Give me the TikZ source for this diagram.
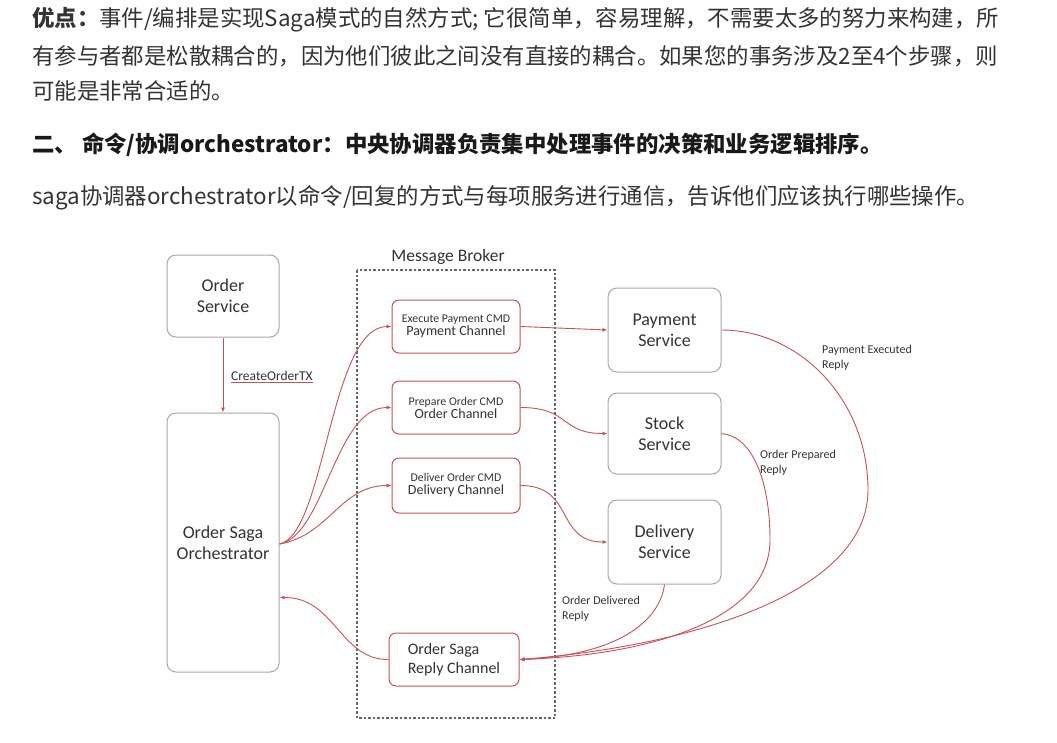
\documentclass[tikz,border=0pt]{standalone}
\usepackage{fontspec}
\usetikzlibrary{arrows.meta}
\newfontfamily\cjk{Noto Sans CJK SC}
\newfontfamily\diag{Carlito}
\definecolor{para}{HTML}{333333}
\definecolor{txt}{HTML}{333333}
\definecolor{lred}{HTML}{C8505C}
\definecolor{gborder}{HTML}{A8A8A8}
\definecolor{dashc}{HTML}{666666}
\begin{document}
\begin{tikzpicture}[x=1pt,y=-1pt,
  paratext/.style={anchor=west,inner sep=0pt,text=para,font=\cjk\fontsize{22.4}{26}\selectfont},
  gbox/.style={draw=gborder,line width=1pt,rounded corners=9pt,align=center,text=txt,font=\diag\fontsize{18}{21}\selectfont,inner sep=0pt},
  rbox/.style={draw=lred,line width=1pt,rounded corners=7pt,align=center,text=txt,inner sep=0pt},
  small/.style={text=txt,font=\diag\fontsize{12}{14.5}\selectfont,align=left,anchor=north west,inner sep=0pt},
  conn/.style={draw=lred,line width=0.9pt,-{Latex[length=5pt,width=4pt]}}
]
\useasboundingbox (0,0) rectangle (1057,742);
\fill[white] (0,0) rectangle (1057,742);

% paragraph text
\node[paratext] (l1) at (32,20) {\textbf{优点：}事件/编排是实现Saga模式的自然方式; 它很简单，容易理解，不需要太多的努力来构建，所};
\node[paratext] (l2) at (32,56) {有参与者都是松散耦合的，因为他们彼此之间没有直接的耦合。如果您的事务涉及2至4个步骤，则};
\node[paratext] (l3) at (32,91) {可能是非常合适的。};
\node[paratext,text=black!90] (h) at (32,145) {\textbf{二、 命令/协调orchestrator：中央协调器负责集中处理事件的决策和业务逻辑排序。}};
\node[paratext] (l5) at (32,198) {saga协调器orchestrator以命令/回复的方式与每项服务进行通信，告诉他们应该执行哪些操作。};

% message broker
\draw[dashc,line width=1.2pt,dash pattern=on 2.5pt off 2pt] (357,270) rectangle (555,718);
\node[text=txt,font=\diag\fontsize{17.5}{21}\selectfont] (mb) at (448,257) {Message Broker};

% left boxes
\node[gbox,minimum width=112pt,minimum height=82pt] (os) at (223,296) {Order\\Service};
\node[gbox,minimum width=112pt,minimum height=259pt] (orch) at (223,542.5) {Order Saga\\Orchestrator};

% channels
\node[rbox,minimum width=128pt,minimum height=53pt] (pc) at (456,326.5)
  {{\diag\fontsize{11.8}{13}\selectfont Execute Payment CMD}\\[1pt]{\diag\fontsize{14}{15}\selectfont Payment Channel}};
\node[rbox,minimum width=128pt,minimum height=53pt] (oc) at (456,407.5)
  {{\diag\fontsize{11.8}{13}\selectfont Prepare Order CMD}\\[1pt]{\diag\fontsize{14}{15}\selectfont Order Channel}};
\node[rbox,minimum width=128pt,minimum height=55pt] (dc) at (456,485.5)
  {{\diag\fontsize{11.8}{13}\selectfont Deliver Order CMD}\\[1pt]{\diag\fontsize{14}{15}\selectfont Delivery Channel}};
\node[rbox,minimum width=130pt,minimum height=53pt,align=left,font=\diag\fontsize{16}{19}\selectfont] (rc) at (454,659.5)
  {Order Saga\\Reply Channel};

% services
\node[gbox,minimum width=113pt,minimum height=84pt] (ps) at (664.5,330) {Payment\\Service};
\node[gbox,minimum width=113pt,minimum height=81pt] (ss) at (664.5,433.5) {Stock\\Service};
\node[gbox,minimum width=113pt,minimum height=84pt] (ds) at (664.5,542) {Delivery\\Service};

% create order
\draw[conn] (os) -- (orch);
\node[anchor=west,inner sep=0pt,font=\diag\fontsize{13.5}{16}\selectfont] (cot) at (231,377)
  {\textcolor{lred}{\underline{\textcolor{txt}{CreateOrderTX}}}};

% orchestrator to channels
\coordinate (oo) at ([yshift=-1.5pt]orch.east);
\draw[conn] (oo) .. controls (325,535) and (330,326.5) .. (pc.west);
\draw[conn] (oo) .. controls (325,535) and (335,407.5) .. (oc.west);
\draw[conn] (oo) .. controls (330,535) and (340,485.5) .. (dc.west);

% channels to services
\draw[conn] (pc.east) -- (ps.west);
\draw[conn] (oc.east) .. controls (570,407.5) and (560,433.5) .. (ss.west);
\draw[conn] (dc.east) .. controls (575,485.5) and (555,542) .. (ds.west);

% replies
\draw[conn] (ps.east) .. controls (800,330) and (868,400) .. (868,490) .. controls (868,590) and (700,645) .. (rc.east);
\draw[conn] (ss.east) .. controls (752,436) and (770,480) .. (770,540) .. controls (770,620) and (650,655) .. (rc.east);
\draw[conn] (ds.south) .. controls (660,620) and (620,655) .. (rc.east);
\draw[conn] (rc.west) .. controls (340,660) and (335,597) .. ([yshift=-55pt]orch.east);

% reply labels
\node[small] (lp) at (822,345) {Payment Executed\\Reply};
\node[small] (lo) at (760,450) {Order Prepared\\Reply};
\node[small] (ld) at (562,596) {Order Delivered\\Reply};
\end{tikzpicture}
\end{document}
